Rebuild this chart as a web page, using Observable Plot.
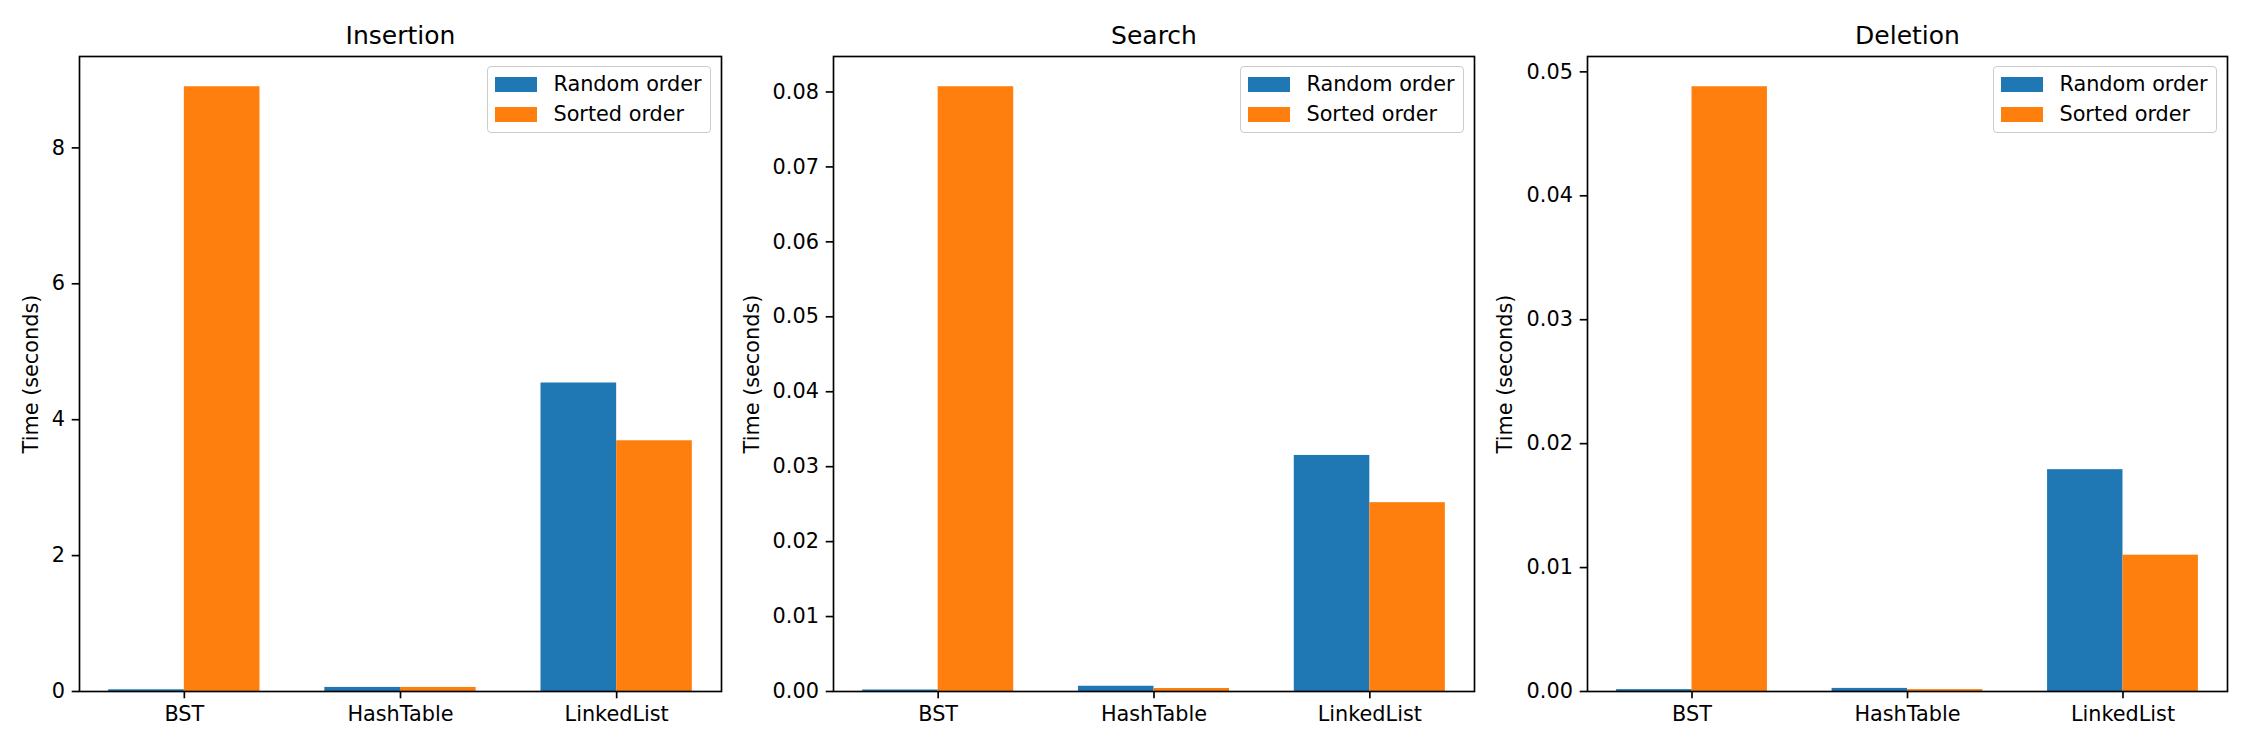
<!DOCTYPE html>
<html><head><meta charset="utf-8">
<script src="https://cdn.jsdelivr.net/npm/d3@7"></script>
<script src="https://cdn.jsdelivr.net/npm/@observablehq/plot@0.6"></script>
<style>
body{margin:0;background:#fff;}
#fig{position:relative;width:2250px;height:750px;font-family:"DejaVu Sans",sans-serif;background:#fff;overflow:hidden;}
.panel{position:absolute;top:0;}
.legend{position:absolute;box-sizing:border-box;border:1.67px solid #cccccc;border-radius:4px;background:rgba(255,255,255,0.8);padding:7px 8px 8px 7px;font-size:20.8px;color:#000;display:flex;flex-direction:column;gap:10px;}
.row{display:flex;align-items:center;height:20px;line-height:20px;white-space:nowrap;}
.sw{width:41.7px;height:14.6px;margin-right:16.7px;flex:none;}
</style></head><body><div id="fig"></div>
<script>
// ---- data ----
const categories = ["BST", "HashTable", "LinkedList"];
const seriesNames = ["Random order", "Sorted order"];
const panelTitles = ["Insertion", "Search", "Deletion"];
const yLabel = "Time (seconds)";

const insertionRandom = [0.025, 0.06, 4.54];
const insertionSorted = [8.90, 0.06, 3.69];
const searchRandom = [0.0002, 0.0007, 0.0315];
const searchSorted = [0.0807, 0.0004, 0.0252];
const deletionRandom = [0.00015, 0.00025, 0.0179];
const deletionSorted = [0.0488, 0.00015, 0.0110];

const insertionTicks = [0, 2, 4, 6, 8];
const searchTicks = [0, 0.01, 0.02, 0.03, 0.04, 0.05, 0.06, 0.07, 0.08];
const deletionTicks = [0, 0.01, 0.02, 0.03, 0.04, 0.05];
const tickFormats = ["d", ".2f", ".2f"];

const colors = ["#1f77b4", "#ff7f0e"];

// ---- layout ----
const panelsLayout = [
  {left: 0, ml: 79, mr: 29, ylabDx: -48},
  {left: 750, ml: 83, mr: 26, ylabDx: -81},
  {left: 1500, ml: 87, mr: 23, ylabDx: -82}
];
const PW = 750, H = 750, MT = 56, MB = 59;
const barW = 0.35;
const xPad = 0.485;

const panelsData = [
  [insertionRandom, insertionSorted, insertionTicks],
  [searchRandom, searchSorted, searchTicks],
  [deletionRandom, deletionSorted, deletionTicks]
];

const fig = document.getElementById("fig");

panelsData.forEach(([rnd, srt, ticks], p) => {
  const L = panelsLayout[p];
  const rows = [];
  [rnd, srt].forEach((vals, s) => {
    vals.forEach((v, i) => {
      rows.push({cat: categories[i], series: seriesNames[s], value: v,
                 x1: i - barW + s * barW, x2: i + s * barW});
    });
  });
  const maxV = d3.max(rows, d => d.value);
  const fmt = d3.format(tickFormats[p]);
  const chart = Plot.plot({
    width: PW, height: H,
    marginLeft: L.ml, marginRight: L.mr, marginTop: MT, marginBottom: MB,
    style: {fontFamily: "DejaVu Sans, sans-serif", fontSize: "20.8px", color: "#000", background: "transparent", overflow: "visible"},
    x: {type: "linear", domain: [-xPad, categories.length - 1 + xPad]},
    y: {domain: [0, maxV * 1.05]},
    color: {domain: seriesNames, range: colors},
    marks: [
      Plot.rectY(rows, {x1: "x1", x2: "x2", y1: 0, y2: "value", fill: "series"}),
      Plot.axisX({ticks: d3.range(categories.length), tickFormat: i => categories[i], tickSize: 7.3, tickPadding: 7.3, strokeWidth: 1.67, label: null, fontSize: 20.8}),
      Plot.axisY({ticks: ticks, tickFormat: fmt, tickSize: 7.3, tickPadding: 7.3, strokeWidth: 1.67, label: null, fontSize: 20.8}),
      Plot.frame({stroke: "#000", strokeWidth: 1.67}),
      Plot.text([panelTitles[p]], {frameAnchor: "top", dy: -21, lineAnchor: "middle", textAnchor: "middle", fontSize: 25, fill: "#000"}),
      Plot.text([yLabel], {frameAnchor: "left", dx: L.ylabDx, rotate: -90, textAnchor: "middle", lineAnchor: "middle", fontSize: 20.8, fill: "#000"})
    ]
  });
  const wrap = document.createElement("div");
  wrap.className = "panel";
  wrap.style.left = L.left + "px";
  wrap.appendChild(chart);
  fig.appendChild(wrap);

  // legend (upper right inside axes)
  const axesRight = L.left + PW - L.mr;
  const lg = document.createElement("div");
  lg.className = "legend";
  lg.style.top = (MT + 10.4) + "px";
  lg.style.right = (2250 - axesRight + 10.4) + "px";
  seriesNames.forEach((name, s) => {
    const r = document.createElement("div");
    r.className = "row";
    const sw = document.createElement("span");
    sw.className = "sw";
    sw.style.background = colors[s];
    const t = document.createElement("span");
    t.textContent = name;
    r.appendChild(sw); r.appendChild(t);
    lg.appendChild(r);
  });
  fig.appendChild(lg);
});
</script></body></html>
